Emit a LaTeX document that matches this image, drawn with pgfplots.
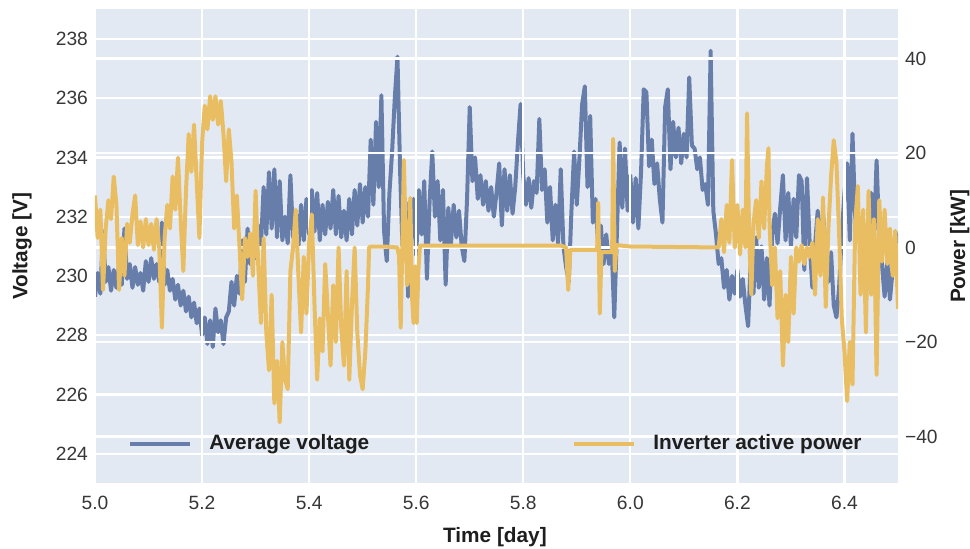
\documentclass[border=0pt]{standalone}
\usepackage{pgfplots}
\pgfplotsset{compat=1.18}
\usepackage{fontspec}
\setmainfont{Liberation Sans}
\definecolor{bgc}{RGB}{227,233,243}
\definecolor{vblue}{RGB}{103,126,171}
\definecolor{pyel}{RGB}{233,190,98}
\definecolor{tickc}{RGB}{55,55,55}
\definecolor{labc}{RGB}{30,30,30}
\newcommand{\labfont}{\fontsize{10.4}{12}\selectfont\bfseries}
\pgfplotsset{
  common/.style={
    scale only axis, width=401.5pt, height=237pt,
    at={(0,0)}, anchor=south west,
    xmin=5, xmax=6.5,
    xtick={5,5.2,5.4,5.6,5.8,6,6.2,6.4},
    axis line style={draw=none},
    major tick length=0pt,
    grid=major,
    major grid style={white, line width=1.1pt},
    /pgf/number format/assume math mode=true,
    tick label style={font=\fontsize{9.6}{11}\selectfont, text=tickc},
    xticklabel style={yshift=-3pt},
    legend image code/.code={\draw[#1] (0pt,0pt) -- (30pt,0pt);},
    legend style={draw=none, fill=none, inner sep=0pt, column sep=6.5pt,
      font=\labfont, text=labc, anchor=west},
  }
}
\begin{document}
\begin{tikzpicture}
\useasboundingbox (-47.5pt,-32.85pt) rectangle (437.5pt,241.65pt);
\begin{axis}[common,
  axis background/.style={fill=bgc},
  ymin=223, ymax=239, ytick={224,226,...,238},
  xticklabels={5.0,5.2,5.4,5.6,5.8,6.0,6.2,6.4},
  xlabel={Time [day]}, ylabel={Voltage [V]},
  every axis x label/.style={at={(axis description cs:0.498,-0.113)}, anchor=center, font=\labfont, text=labc},
  every axis y label/.style={at={(axis description cs:-0.091,0.5)}, rotate=90, anchor=center, font=\labfont, text=labc},
  ]
\addplot[vblue, line width=2pt, line join=round] table {
5.000 229.3
5.005 230.1
5.010 229.4
5.015 231.5
5.020 229.8
5.025 230.3
5.030 229.5
5.035 230.2
5.040 229.6
5.045 230.4
5.050 229.7
5.055 231.6
5.060 229.9
5.065 230.4
5.070 229.6
5.075 230.3
5.080 229.7
5.085 230.1
5.090 229.5
5.095 230.5
5.100 229.8
5.105 230.6
5.110 229.9
5.115 230.4
5.120 229.8
5.125 231.8
5.130 229.7
5.135 230.2
5.140 229.5
5.145 229.9
5.150 229.2
5.155 229.7
5.160 229.0
5.165 229.5
5.170 228.8
5.175 229.3
5.180 228.6
5.185 229.1
5.190 228.4
5.195 228.9
5.200 228.0
5.205 228.6
5.210 227.7
5.215 228.5
5.220 227.6
5.225 228.9
5.230 228.1
5.235 228.5
5.240 227.7
5.245 228.6
5.250 228.8
5.255 229.8
5.260 229.0
5.265 230.0
5.270 229.4
5.275 231.2
5.280 229.8
5.285 231.6
5.290 230.4
5.295 231.3
5.300 230.6
5.305 231.7
5.310 231.0
5.315 233.0
5.320 231.4
5.325 233.5
5.330 231.6
5.335 233.6
5.340 231.3
5.345 233.2
5.350 231.2
5.355 232.0
5.360 231.1
5.365 233.4
5.370 231.3
5.375 232.2
5.380 231.0
5.385 232.4
5.390 231.2
5.395 232.6
5.400 231.4
5.405 232.9
5.410 231.5
5.415 232.8
5.420 231.2
5.425 232.4
5.430 231.4
5.435 232.5
5.440 231.6
5.445 232.9
5.450 231.4
5.455 232.7
5.460 231.3
5.465 232.2
5.470 231.2
5.475 232.6
5.480 231.4
5.485 232.9
5.490 231.7
5.495 233.1
5.500 231.8
5.505 233.0
5.510 232.0
5.515 234.6
5.520 232.4
5.525 235.2
5.530 233.0
5.535 236.1
5.540 231.5
5.545 230.5
5.550 232.8
5.555 234.2
5.560 236.0
5.565 237.4
5.570 233.5
5.575 230.6
5.580 232.5
5.585 229.3
5.590 231.2
5.595 232.6
5.600 230.7
5.605 232.9
5.610 231.4
5.615 233.2
5.620 229.9
5.625 232.5
5.630 234.2
5.635 232.0
5.640 233.2
5.645 231.2
5.650 232.9
5.655 229.7
5.660 232.3
5.665 231.1
5.670 232.4
5.675 231.3
5.680 232.2
5.685 231.0
5.690 230.5
5.695 232.6
5.700 235.7
5.705 233.2
5.710 234.0
5.715 232.6
5.720 233.4
5.725 232.4
5.730 233.2
5.735 232.2
5.740 233.0
5.745 232.0
5.750 232.8
5.755 233.8
5.760 231.7
5.765 233.6
5.770 232.2
5.775 233.4
5.780 232.1
5.785 233.0
5.790 234.5
5.795 235.8
5.800 233.4
5.805 232.4
5.810 233.3
5.815 232.3
5.820 233.2
5.825 232.8
5.830 235.3
5.835 232.9
5.840 233.6
5.845 231.8
5.850 233.0
5.855 231.2
5.860 232.4
5.865 231.1
5.870 233.6
5.875 231.0
5.880 230.3
5.885 229.8
5.890 232.2
5.895 234.2
5.900 232.4
5.905 234.0
5.910 235.8
5.915 236.4
5.920 233.0
5.925 235.4
5.930 231.8
5.935 232.6
5.940 231.0
5.945 231.7
5.950 230.4
5.955 231.4
5.960 230.4
5.965 231.0
5.970 228.6
5.975 231.5
5.980 234.5
5.985 232.3
5.990 234.3
5.995 232.2
6.000 233.4
6.005 231.8
6.010 233.3
6.015 231.6
6.020 233.5
6.025 236.3
6.030 236.2
6.035 233.7
6.040 234.6
6.045 233.1
6.050 233.8
6.055 232.6
6.060 231.8
6.065 235.7
6.070 236.3
6.075 233.6
6.080 235.2
6.085 234.0
6.090 235.0
6.095 233.8
6.100 234.8
6.105 234.0
6.110 236.7
6.115 234.4
6.120 234.3
6.125 233.6
6.130 234.0
6.135 232.9
6.140 233.1
6.145 232.4
6.150 237.6
6.155 232.2
6.160 231.4
6.165 230.4
6.170 230.6
6.175 229.6
6.180 230.2
6.185 229.2
6.190 230.0
6.195 229.4
6.200 230.2
6.205 229.3
6.210 229.9
6.215 229.0
6.220 228.3
6.225 230.6
6.230 229.4
6.235 231.3
6.240 229.6
6.245 231.0
6.250 229.2
6.255 230.6
6.260 229.0
6.265 231.4
6.270 232.1
6.275 231.1
6.280 232.3
6.285 233.4
6.290 231.2
6.295 232.8
6.300 231.0
6.305 232.6
6.310 231.3
6.315 233.4
6.320 233.2
6.325 230.2
6.330 233.3
6.335 231.1
6.340 229.6
6.345 231.0
6.350 232.2
6.355 230.8
6.360 232.1
6.365 230.9
6.370 229.8
6.375 230.8
6.380 229.0
6.385 228.6
6.390 229.6
6.395 231.4
6.400 232.8
6.405 233.8
6.410 231.2
6.415 234.8
6.420 232.0
6.425 231.2
6.430 231.9
6.435 231.0
6.440 229.2
6.445 231.5
6.450 232.8
6.455 231.2
6.460 233.9
6.465 231.3
6.470 230.4
6.475 229.3
6.480 230.5
6.485 229.2
6.490 230.2
6.495 231.5
6.500 231.1
};
\end{axis}
\begin{axis}[common,
  axis y line*=right,
  ymin=-49.9, ymax=50.4, ytick={-40,-20,0,20,40},
  yticklabels={−40,−20,0,20,40},
  xticklabels={},
  ylabel={Power [kW]},
  every axis y label/.style={at={(axis description cs:1.077,0.5)}, rotate=90, anchor=center, font=\labfont, text=labc},
  legend style={at={(axis description cs:0.594,0.083)}},
  ]
\addplot[pyel, line width=2pt, line join=round] table {
5.000 11.0
5.005 2.0
5.010 8.0
5.015 -9.0
5.020 4.0
5.025 10.0
5.030 6.0
5.035 15.0
5.040 9.0
5.045 -9.0
5.050 2.0
5.055 -6.0
5.060 5.0
5.065 1.0
5.070 7.0
5.075 11.0
5.080 0.5
5.085 5.5
5.090 0.0
5.095 6.0
5.100 0.5
5.105 5.0
5.110 -0.5
5.115 6.0
5.120 0.0
5.125 -17.0
5.130 2.0
5.135 9.0
5.140 4.0
5.145 15.0
5.150 8.0
5.155 19.0
5.160 6.0
5.165 -5.0
5.170 12.0
5.175 24.0
5.180 16.0
5.185 26.0
5.190 14.0
5.195 2.0
5.200 22.0
5.205 30.0
5.210 25.0
5.215 32.0
5.220 27.0
5.225 32.0
5.230 26.0
5.235 31.0
5.240 24.0
5.245 14.0
5.250 25.0
5.255 18.0
5.260 4.0
5.265 11.0
5.270 0.0
5.275 -11.0
5.280 2.0
5.285 -2.0
5.290 3.0
5.295 -6.0
5.300 12.0
5.305 -4.0
5.310 -16.0
5.315 2.0
5.320 -18.0
5.325 -26.0
5.330 -10.0
5.335 -33.0
5.340 -24.0
5.345 -37.0
5.350 -20.0
5.355 -28.0
5.360 -30.0
5.365 -5.0
5.370 0.0
5.375 8.0
5.380 -6.0
5.385 -18.0
5.390 -2.0
5.395 -14.0
5.400 1.0
5.405 7.0
5.410 -12.0
5.415 -28.0
5.420 -15.0
5.425 -22.0
5.430 -3.5
5.435 -14.0
5.440 -25.0
5.445 -8.0
5.450 -20.0
5.455 0.0
5.460 -17.0
5.465 -25.0
5.470 -5.0
5.475 -28.0
5.480 -12.0
5.485 0.0
5.490 -18.0
5.495 -27.0
5.500 -30.0
5.505 -22.0
5.510 -8.0
5.512 0.0
5.515 0.2
5.540 0.2
5.565 0.0
5.568 -2.0
5.571 -17.0
5.574 0.0
5.577 18.5
5.580 4.0
5.583 -8.0
5.586 -3.0
5.589 10.5
5.592 -10.0
5.595 -16.0
5.598 -4.0
5.601 -16.0
5.604 -5.0
5.607 0.4
5.870 0.4
5.880 0.0
5.884 -9.0
5.888 -0.5
5.938 -0.5
5.940 9.5
5.943 -14.0
5.946 -1.0
5.966 -1.0
5.968 23.0
5.971 -5.0
5.974 0.5
6.000 0.2
6.165 0.0
6.170 6.0
6.175 -1.0
6.180 9.0
6.185 1.0
6.190 18.5
6.195 0.0
6.200 9.0
6.205 -1.5
6.210 8.0
6.215 0.0
6.218 28.4
6.222 2.0
6.226 -10.0
6.230 5.0
6.235 10.0
6.240 2.0
6.245 14.0
6.250 4.0
6.255 17.0
6.258 21.0
6.260 5.0
6.265 -8.0
6.270 0.0
6.275 -15.0
6.280 -5.0
6.285 -25.0
6.290 -10.0
6.295 -20.0
6.300 -2.0
6.305 -14.0
6.310 0.0
6.315 -3.0
6.320 0.5
6.325 -3.5
6.330 0.0
6.335 -2.0
6.340 1.0
6.345 -10.0
6.350 6.0
6.355 -6.0
6.360 10.6
6.365 -12.6
6.370 4.0
6.375 15.0
6.380 22.7
6.385 18.0
6.390 3.0
6.395 -15.0
6.400 -22.0
6.405 -32.5
6.410 -20.0
6.415 -29.0
6.420 5.0
6.425 13.0
6.430 -10.0
6.435 8.0
6.440 -18.0
6.445 12.0
6.450 -10.0
6.455 6.0
6.460 -27.0
6.465 10.0
6.470 -3.0
6.475 8.0
6.480 -3.5
6.485 4.0
6.490 -6.0
6.495 3.5
6.500 -13.0
};
\addlegendentry{Inverter active power}
\end{axis}
\begin{axis}[common, hide axis, ymin=0, ymax=1,
  legend style={at={(axis description cs:0.0411,0.083)}},
  ]
\addlegendimage{vblue, line width=2pt}
\addlegendentry{Average voltage}
\end{axis}
\end{tikzpicture}
\end{document}
